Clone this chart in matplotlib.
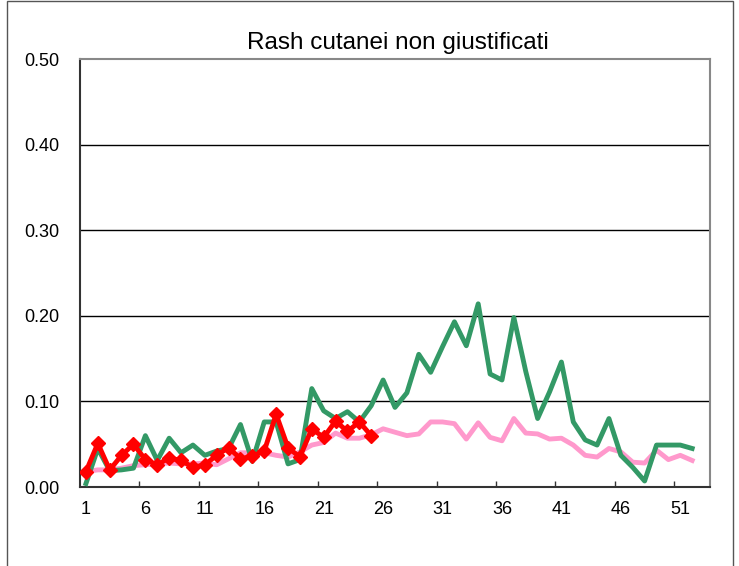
import matplotlib.pyplot as plt
from matplotlib.patches import Rectangle

plt.rcParams['font.family'] = ['Liberation Sans', 'DejaVu Sans']

title = "Rash cutanei non giustificati"

# settimane 1..52
green = [0.004, 0.045, 0.019, 0.020, 0.022, 0.060, 0.031, 0.057, 0.040, 0.049,
         0.037, 0.042, 0.045, 0.073, 0.030, 0.076, 0.076, 0.027, 0.032, 0.115,
         0.089, 0.080, 0.088, 0.076, 0.095, 0.125, 0.093, 0.110, 0.155, 0.134,
         0.164, 0.193, 0.165, 0.214, 0.132, 0.125, 0.198, 0.135, 0.080, 0.111,
         0.146, 0.076, 0.055, 0.049, 0.080, 0.037, 0.023, 0.007, 0.049, 0.049,
         0.049, 0.045]
pink = [0.018, 0.020, 0.020, 0.022, 0.025, 0.026, 0.027, 0.028, 0.027, 0.027,
        0.028, 0.026, 0.033, 0.040, 0.040, 0.040, 0.037, 0.035, 0.041, 0.049,
        0.052, 0.063, 0.057, 0.057, 0.061, 0.068, 0.064, 0.060, 0.062, 0.076,
        0.076, 0.074, 0.056, 0.075, 0.058, 0.054, 0.080, 0.063, 0.062, 0.056,
        0.057, 0.049, 0.037, 0.035, 0.045, 0.041, 0.029, 0.028, 0.043, 0.032,
        0.037, 0.031]
red = [0.018, 0.051, 0.020, 0.037, 0.050, 0.032, 0.026, 0.034, 0.031, 0.023,
       0.026, 0.037, 0.046, 0.033, 0.036, 0.042, 0.085, 0.046, 0.035, 0.068,
       0.058, 0.077, 0.065, 0.076, 0.060]

n_weeks = 53
y_ticks = [0.0, 0.1, 0.2, 0.3, 0.4, 0.5]

fig = plt.figure(figsize=(7.39, 5.66), dpi=100)
ax = fig.add_axes([80 / 739, 1 - 487 / 566, 630 / 739, 428 / 566])

# cornice esterna del grafico
fig.patches.append(Rectangle((7 / 739, -0.05), 726 / 739, 1.05 - 1 / 566,
                             transform=fig.transFigure, fill=False,
                             edgecolor='#555555', linewidth=1.0))

weeks_g = list(range(1, len(green) + 1))
weeks_p = list(range(1, len(pink) + 1))
weeks_r = list(range(1, len(red) + 1))

ax.plot(weeks_p, pink, color='#FF99CC', linewidth=3.5, solid_joinstyle='round', zorder=3)
ax.plot(weeks_g, green, color='#339966', linewidth=3.5, solid_joinstyle='round', zorder=4)
ax.plot(weeks_r, red, color='#FF0000', linewidth=3.5, marker='D', markersize=7,
        solid_joinstyle='round', zorder=5)

ax.set_xlim(0.5, n_weeks + 0.5)
ax.set_ylim(0, 0.5)

ax.set_yticks(y_ticks)
ax.set_yticklabels([f"{v:.2f}" for v in y_ticks])
for v in y_ticks[1:-1]:
    ax.axhline(v, color='black', linewidth=1.0, zorder=1)

label_weeks = list(range(1, 52, 5))
ax.set_xticks(label_weeks)
ax.set_xticklabels([str(w) for w in label_weeks])
ax.set_xticks([w - 0.5 for w in label_weeks[1:]], minor=True)
ax.tick_params(axis='x', which='major', length=0, pad=10, labelsize=13)
ax.tick_params(axis='x', which='minor', length=4, direction='in', width=1, color='#333333')
ax.tick_params(axis='y', length=0, pad=15, labelsize=13)

for side in ['top', 'right']:
    ax.spines[side].set_color('#888888')
    ax.spines[side].set_linewidth(1.5)
for side in ['left', 'bottom']:
    ax.spines[side].set_color('#333333')
    ax.spines[side].set_linewidth(1.5)

fig.text(398 / 739, 1 - 43 / 566, title, ha='center', va='center', fontsize=17.5)

fig.savefig('out.png', dpi=100)
